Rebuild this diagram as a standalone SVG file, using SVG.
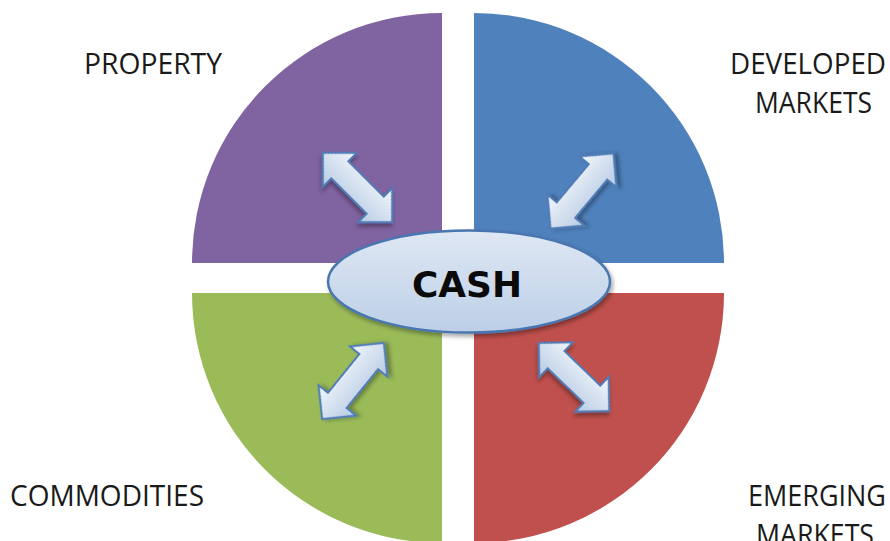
<svg xmlns="http://www.w3.org/2000/svg" xmlns:xlink="http://www.w3.org/1999/xlink" width="890" height="541" viewBox="0 0 890 541">
  <style>
    .lbl { font-family: "Open Sans", "Liberation Sans", sans-serif; font-size: 30px; fill: #1a1a1a; }
    .cash { font-family: "DejaVu Sans", "Liberation Sans", sans-serif; font-weight: bold; font-size: 36px; fill: #0a0a0a; }
    .arrow { fill: url(#arrGrad); stroke: #4f7db8; stroke-width: 2; stroke-linejoin: miter; filter: url(#shadow); }
  </style>
  <defs>
    <linearGradient id="arrGrad" x1="0" y1="0" x2="0" y2="1">
      <stop offset="0" stop-color="#f3f7fc"/>
      <stop offset="1" stop-color="#b6cae3"/>
    </linearGradient>
    <linearGradient id="ellGrad" x1="0" y1="0" x2="0" y2="1">
      <stop offset="0" stop-color="#dfe8f4"/>
      <stop offset="1" stop-color="#bccfe7"/>
    </linearGradient>
    <filter id="shadow" x="-30%" y="-30%" width="160%" height="160%">
      <feDropShadow dx="2" dy="3" stdDeviation="2" flood-color="#000" flood-opacity="0.35"/>
    </filter>
    <path id="dbl" d="M-49,0 L-25,-24 L-25,-12 L25,-12 L25,-24 L49,0 L25,24 L25,12 L-25,12 L-25,24 Z"/>
  </defs>
  <rect width="890" height="541" fill="#ffffff"/>

  <g id="property">
    <path d="M442,263 L442,13 A250,250 0 0 0 192,263 Z" fill="#8063a1"/>
    <text class="lbl" x="84" y="74" textLength="138" lengthAdjust="spacingAndGlyphs">PROPERTY</text>
  </g>
  <g id="developed-markets">
    <path d="M474,263 L474,13 A250,250 0 0 1 724,263 Z" fill="#4f81bd"/>
    <text class="lbl" x="730" y="74" textLength="156" lengthAdjust="spacingAndGlyphs">DEVELOPED</text>
    <text class="lbl" x="755" y="113" textLength="117" lengthAdjust="spacingAndGlyphs">MARKETS</text>
  </g>
  <g id="commodities">
    <path d="M442,293 L192,293 A250,250 0 0 0 442,543 Z" fill="#9bbb59"/>
    <text class="lbl" x="10" y="506" textLength="194" lengthAdjust="spacingAndGlyphs">COMMODITIES</text>
  </g>
  <g id="emerging-markets">
    <path d="M474,293 L724,293 A250,250 0 0 1 474,543 Z" fill="#c0504d"/>
    <text class="lbl" x="748" y="506" textLength="138" lengthAdjust="spacingAndGlyphs">EMERGING</text>
    <text class="lbl" x="756" y="545" textLength="118" lengthAdjust="spacingAndGlyphs">MARKETS</text>
  </g>

  <g id="connectors">
    <use xlink:href="#dbl" class="arrow" transform="translate(357.5,187.5) rotate(45)"/>
    <use xlink:href="#dbl" class="arrow" transform="translate(582,191) rotate(-50)"/>
    <use xlink:href="#dbl" class="arrow" transform="translate(353,381) rotate(-51)"/>
    <use xlink:href="#dbl" class="arrow" transform="translate(574,377) rotate(44)"/>
  </g>

  <g id="cash">
    <ellipse cx="469" cy="281.5" rx="141" ry="51" fill="url(#ellGrad)" stroke="#4a76b0" stroke-width="2.5" filter="url(#shadow)"/>
    <text class="cash" x="467" y="297" text-anchor="middle" textLength="110" lengthAdjust="spacingAndGlyphs">CASH</text>
  </g>
</svg>
